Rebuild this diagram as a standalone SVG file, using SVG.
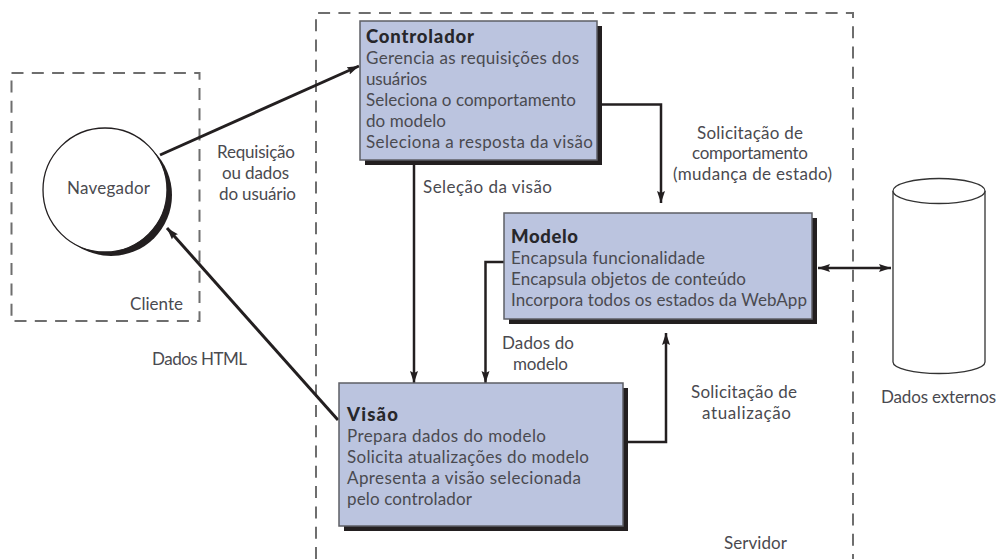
<svg xmlns="http://www.w3.org/2000/svg" width="997" height="559" viewBox="0 0 997 559">
<style>
text{font-family:"Lato","Liberation Sans",sans-serif;font-size:17px;fill:#4a4a50}
.t{font-weight:900;fill:#27272b;font-size:18.500px}
.box{fill:#bbc4df;stroke:#5e5f66;stroke-width:1.5}
.sh{fill:#231f20}
.dash{fill:none;stroke:#6e6e6e;stroke-width:2;stroke-dasharray:12 8.300}
.c{fill:none;stroke:#231f20;stroke-width:2.500;marker-end:url(#a)}
.w{stroke-width:3}
.d{fill:none;stroke:#231f20;stroke-width:2.500;marker-start:url(#b);marker-end:url(#a)}
.cyl{fill:#fff;stroke:#333;stroke-width:1.300}
</style>
<defs>
<marker id="a" markerUnits="userSpaceOnUse" markerWidth="13" markerHeight="9" refX="12" refY="4.500" orient="auto"><path d="M0 0.500L12 4.500L0 8.500L2 4.500Z" fill="#231f20"/></marker>
<marker id="b" markerUnits="userSpaceOnUse" markerWidth="13" markerHeight="9" refX="1" refY="4.500" orient="auto"><path d="M13 0.500L1 4.500L13 8.500L11 4.500Z" fill="#231f20"/></marker>
</defs>
<rect width="997" height="559" fill="#fff"/>
<g id="cliente">
<rect class="dash" x="11.500" y="73" width="188" height="248"/>
<text x="130" y="310" textLength="53">Cliente</text>
</g>
<g id="servidor">
<path class="dash" d="M316 559V13H853V559"/>
<text x="724" y="549" textLength="63">Servidor</text>
</g>
<g id="connectors">
<path class="c w" d="M160 155L359 66"/>
<path class="c w" d="M338 420L167 228"/>
<path class="c" d="M414 165V383"/>
<path class="c" d="M602 104.500H661V203"/>
<path class="c" d="M504 262H485.500V383"/>
<path class="c" d="M628 442H666V333"/>
<path class="d" d="M818 268H891"/>
</g>
<g id="navegador">
<circle cx="111" cy="195" r="61" fill="#231f20"/>
<circle cx="105" cy="190" r="62" fill="#fff" stroke="#231f20" stroke-width="1.300"/>
<text x="67" y="194" textLength="83">Navegador</text>
</g>
<g id="controlador">
<rect class="sh" x="365" y="26" width="237" height="139"/>
<rect class="box" x="360" y="21" width="237" height="139"/>
<text class="t" x="366" y="43" textLength="108">Controlador</text>
<text x="366" y="64" textLength="213">Gerencia as requisições dos</text>
<text x="366" y="85" textLength="61">usuários</text>
<text x="366" y="106" textLength="210">Seleciona o comportamento</text>
<text x="366" y="127" textLength="80">do modelo</text>
<text x="366" y="148" textLength="227">Seleciona a resposta da visão</text>
</g>
<g id="modelo">
<rect class="sh" x="509" y="218" width="308" height="106"/>
<rect class="box" x="504" y="213" width="308" height="106"/>
<text class="t" x="511" y="243" textLength="67">Modelo</text>
<text x="511" y="264" textLength="194">Encapsula funcionalidade</text>
<text x="511" y="285" textLength="235">Encapsula objetos de conteúdo</text>
<text x="511" y="306" textLength="296">Incorpora todos os estados da WebApp</text>
</g>
<g id="visao">
<rect class="sh" x="344" y="388" width="284" height="143"/>
<rect class="box" x="339" y="383" width="284" height="143"/>
<text class="t" x="347" y="421" textLength="51">Visão</text>
<text x="347" y="442" textLength="199">Prepara dados do modelo</text>
<text x="347" y="463" textLength="242">Solicita atualizações do modelo</text>
<text x="347" y="484" textLength="234">Apresenta a visão selecionada</text>
<text x="347" y="505" textLength="125">pelo controlador</text>
</g>
<g id="dados-externos">
<path class="cyl" d="M893 191V362A46 11.500 0 0 0 985 362V191"/>
<ellipse class="cyl" cx="939" cy="191" rx="46" ry="12.500"/>
<text x="881" y="403" textLength="115">Dados externos</text>
</g>
<g id="labels">
<text x="217" y="158" textLength="78">Requisição</text>
<text x="222" y="179" textLength="67">ou dados</text>
<text x="219" y="200" textLength="77">do usuário</text>
<text x="152" y="365" textLength="95">Dados HTML</text>
<text x="423" y="193" textLength="129">Seleção da visão</text>
<text x="697" y="139" textLength="106">Solicitação de</text>
<text x="692" y="159" textLength="116">comportamento</text>
<text x="673" y="180" textLength="159">(mudança de estado)</text>
<text x="502" y="349" textLength="72">Dados do</text>
<text x="513" y="370" textLength="55">modelo</text>
<text x="691" y="398" textLength="106">Solicitação de</text>
<text x="702" y="419" textLength="89">atualização</text>
</g>
</svg>
